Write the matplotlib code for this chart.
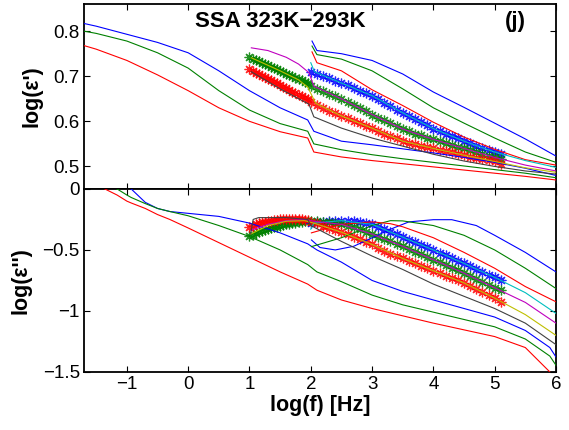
import numpy as np
import matplotlib
matplotlib.use('Agg')
import matplotlib.pyplot as plt

# matlab default colour order
C_B = (0, 0, 1)
C_G = (0, 0.5, 0)
C_R = (1, 0, 0)
C_C = (0, 0.75, 0.75)
C_M = (0.75, 0, 0.75)
C_Y = (0.75, 0.75, 0)
C_K = (0.25, 0.25, 0.25)

# ---------------- top panel: log(eps') ----------------
# low-frequency set, continued after the jump at log f = 2
tri_x = [-1.7, -1.5, -1.0, -0.5, 0.0, 0.5, 1.0, 1.5, 1.95, 2.05, 2.5, 3.0, 3.5, 4.0, 4.5, 5.0, 5.5, 6.0]
ep_blue = [0.817, 0.811, 0.793, 0.775, 0.752, 0.712, 0.668, 0.630, 0.603, 0.578, 0.556, 0.548, 0.539, 0.530, 0.520, 0.509, 0.496, 0.480]
ep_green = [0.800, 0.795, 0.778, 0.752, 0.718, 0.668, 0.625, 0.595, 0.578, 0.550, 0.537, 0.526, 0.517, 0.509, 0.501, 0.493, 0.485, 0.475]
ep_red = [0.768, 0.760, 0.735, 0.703, 0.668, 0.630, 0.600, 0.577, 0.563, 0.532, 0.521, 0.513, 0.506, 0.499, 0.492, 0.485, 0.478, 0.470]

# high-frequency set starting at log f = 2
hi_x = [2.02, 2.1, 2.5, 3.0, 3.5, 4.0, 4.5, 5.0, 5.5, 6.0]
ep_hi_blue = [0.778, 0.757, 0.750, 0.735, 0.705, 0.665, 0.631, 0.596, 0.561, 0.523]
ep_hi_green = [0.767, 0.748, 0.738, 0.712, 0.672, 0.630, 0.596, 0.563, 0.532, 0.509]
ep_hi_red = [0.754, 0.730, 0.712, 0.670, 0.635, 0.598, 0.565, 0.538, 0.515, 0.503]

ep_cyan_x = [2.0, 2.06, 2.5, 3.0, 3.5, 4.0, 4.5, 5.0, 5.5, 6.0]
ep_cyan = [0.730, 0.710, 0.685, 0.657, 0.619, 0.584, 0.556, 0.532, 0.513, 0.498]
ep_mag_x = [1.03, 1.3, 1.6, 1.8, 1.97, 2.05, 2.5, 3.0, 3.5, 4.0, 4.5, 5.0, 5.5, 6.0]
ep_mag = [0.763, 0.757, 0.742, 0.727, 0.708, 0.678, 0.650, 0.615, 0.583, 0.560, 0.540, 0.520, 0.503, 0.490]
ep_yel_x = [1.03, 1.5, 1.8, 1.95, 2.08, 2.5, 3.0, 3.5, 4.0, 4.5, 5.0, 5.5, 6.0]
ep_yel = [0.741, 0.712, 0.692, 0.676, 0.640, 0.612, 0.585, 0.556, 0.540, 0.525, 0.511, 0.497, 0.487]
ep_blk_x = [1.03, 1.5, 1.97, 2.05, 2.5, 3.0, 3.5, 4.0, 4.5, 5.0, 5.5, 6.0]
ep_blk = [0.710, 0.672, 0.638, 0.610, 0.585, 0.563, 0.545, 0.527, 0.512, 0.500, 0.490, 0.483]

# measured points (asterisks)
star_lo_x = [1.0, 1.05, 1.1, 1.15, 1.2, 1.25, 1.3, 1.35, 1.4, 1.45,
             1.5, 1.55, 1.6, 1.65, 1.7, 1.75, 1.8, 1.85, 1.9, 1.95]
star_hi_x = [2.0, 2.1, 2.2, 2.3, 2.4, 2.5, 2.6, 2.7, 2.8, 2.9, 3.0,
             3.1, 3.2, 3.3, 3.4, 3.5, 3.6, 3.7, 3.8, 3.9, 4.0,
             4.1, 4.2, 4.3, 4.4, 4.5, 4.6, 4.7, 4.8, 4.9, 5.0, 5.1]

ep_star_g_lo = [0.742, 0.739, 0.736, 0.733, 0.730, 0.727, 0.724, 0.721, 0.718, 0.715,
                0.712, 0.709, 0.706, 0.703, 0.700, 0.697, 0.694, 0.691, 0.688, 0.685]
ep_star_r_lo = [0.715, 0.712, 0.708, 0.705, 0.701, 0.698, 0.694, 0.691, 0.687, 0.684,
                0.680, 0.677, 0.673, 0.670, 0.666, 0.663, 0.659, 0.656, 0.652, 0.649]
ep_star_b_hi = [0.710, 0.705, 0.700, 0.695, 0.690, 0.685, 0.680, 0.674, 0.668, 0.663, 0.657,
                0.649, 0.641, 0.634, 0.626, 0.619, 0.612, 0.605, 0.598, 0.591, 0.584,
                0.578, 0.573, 0.567, 0.562, 0.556, 0.551, 0.546, 0.541, 0.537, 0.532, 0.527]
ep_star_g_hi = [0.678, 0.672, 0.667, 0.661, 0.656, 0.650, 0.643, 0.636, 0.629, 0.622, 0.615,
                0.608, 0.602, 0.596, 0.589, 0.583, 0.578, 0.573, 0.569, 0.564, 0.560,
                0.556, 0.552, 0.548, 0.544, 0.540, 0.536, 0.532, 0.528, 0.524, 0.520, 0.516]
ep_star_r_hi = [0.642, 0.636, 0.630, 0.624, 0.618, 0.612, 0.607, 0.601, 0.596, 0.590, 0.585,
                0.579, 0.573, 0.567, 0.562, 0.556, 0.553, 0.550, 0.546, 0.543, 0.540,
                0.537, 0.534, 0.531, 0.528, 0.525, 0.522, 0.519, 0.517, 0.514, 0.511, 0.506]

# ---------------- bottom panel: log(eps'') ----------------
lo2_x = [-1.7, -1.36, -1.16, -1.0, -0.93, -0.7, -0.5, -0.3, 0.0, 0.5, 1.0, 1.5, 1.95, 2.1,
         2.5, 3.0, 3.5, 4.0, 4.5, 5.0, 5.5, 5.9, 6.0]
el_blue = [0.30, 0.14, 0.06, 0.02, 0.0, -0.11, -0.16, -0.185, -0.20, -0.225, -0.28, -0.36, -0.45, -0.50,
           -0.60, -0.75, -0.84, -0.91, -0.98, -1.05, -1.16, -1.30, -1.377]
el_green = [0.12, 0.04, 0.0, -0.05, -0.07, -0.12, -0.16, -0.185, -0.22, -0.30, -0.39, -0.50, -0.62, -0.68,
            -0.76, -0.87, -0.95, -1.01, -1.07, -1.13, -1.23, -1.37, -1.445]
el_red = [0.08, 0.0, -0.05, -0.10, -0.115, -0.16, -0.21, -0.25, -0.32, -0.44, -0.56, -0.68, -0.78, -0.83,
          -0.91, -0.98, -1.04, -1.10, -1.155, -1.21, -1.30, -1.50, -1.56]

hi2_blue_x = [2.01, 2.15, 2.4, 2.7, 3.0, 3.3, 3.6, 4.0, 4.3, 4.7, 5.0, 5.5, 6.0]
el_hi_blue = [-0.418, -0.48, -0.50, -0.47, -0.40, -0.33, -0.27, -0.252, -0.252, -0.30, -0.38, -0.52, -0.68]
hi2_x = [2.01, 2.5, 3.0, 3.3, 3.5, 4.0, 4.5, 5.0, 5.5, 6.0]
el_hi_green = [-0.473, -0.40, -0.30, -0.26, -0.262, -0.30, -0.38, -0.50, -0.65, -0.816]
el_hi_red = [-0.36, -0.29, -0.27, -0.285, -0.31, -0.40, -0.52, -0.65, -0.80, -0.925]

el_cyan_x = [2.0, 2.05, 2.5, 3.0, 3.5, 4.0, 4.5, 5.0, 5.5, 6.0]
el_cyan = [-0.33, -0.28, -0.26, -0.29, -0.395, -0.50, -0.61, -0.725, -0.85, -1.02]
el_mag_x = [1.02, 1.3, 1.6, 1.9, 2.05, 2.5, 3.0, 3.5, 4.0, 4.5, 5.0, 5.5, 6.0]
el_mag = [-0.34, -0.29, -0.26, -0.25, -0.265, -0.29, -0.37, -0.47, -0.58, -0.69, -0.81, -0.93, -1.10]
el_yel_x = [1.02, 1.3, 1.6, 1.9, 2.05, 2.5, 3.0, 3.5, 4.0, 4.5, 5.0, 5.5, 6.0]
el_yel = [-0.37, -0.30, -0.265, -0.26, -0.28, -0.354, -0.455, -0.57, -0.67, -0.77, -0.895, -1.03, -1.20]
el_blk_x = [1.02, 1.06, 1.15, 1.6, 1.95, 2.0, 2.5, 3.0, 3.5, 4.0, 4.5, 5.0, 5.5, 6.0]
el_blk = [-0.37, -0.25, -0.235, -0.235, -0.25, -0.30, -0.43, -0.55, -0.66, -0.78, -0.88, -0.98, -1.10, -1.276]

el_star_g_lo = [-0.385, -0.375, -0.365, -0.355, -0.346, -0.338, -0.330, -0.322, -0.315, -0.308,
                -0.301, -0.295, -0.290, -0.285, -0.280, -0.276, -0.272, -0.268, -0.265, -0.262]
el_star_r_lo = [-0.310, -0.300, -0.290, -0.282, -0.275, -0.270, -0.265, -0.260, -0.256, -0.252,
                -0.250, -0.248, -0.246, -0.245, -0.245, -0.246, -0.248, -0.250, -0.253, -0.257]
el_star_b_hi = [-0.280, -0.275, -0.270, -0.265, -0.262, -0.260, -0.260, -0.262, -0.268, -0.278, -0.290,
                -0.310, -0.330, -0.350, -0.372, -0.395, -0.416, -0.437, -0.458, -0.479, -0.500,
                -0.522, -0.544, -0.566, -0.588, -0.610, -0.633, -0.656, -0.679, -0.702, -0.725, -0.750]
el_star_g_hi = [-0.265, -0.265, -0.268, -0.272, -0.280, -0.290, -0.300, -0.315, -0.330, -0.350, -0.370,
                -0.390, -0.410, -0.430, -0.450, -0.470, -0.492, -0.514, -0.536, -0.558, -0.580,
                -0.602, -0.624, -0.646, -0.668, -0.690, -0.714, -0.738, -0.762, -0.786, -0.810, -0.830]
el_star_r_hi = [-0.270, -0.280, -0.300, -0.320, -0.337, -0.354, -0.370, -0.390, -0.410, -0.432, -0.455,
                -0.480, -0.505, -0.530, -0.550, -0.570, -0.590, -0.610, -0.630, -0.650, -0.670,
                -0.690, -0.710, -0.730, -0.750, -0.770, -0.795, -0.820, -0.845, -0.870, -0.895, -0.925]

x_ticks = [-1, 0, 1, 2, 3, 4, 5, 6]
ep_ticks = [0.5, 0.6, 0.7, 0.8]
el_ticks = [-1.5, -1, -0.5, 0]

STAR = (8, 2, 0)
LW = 0.8


def style_axes(ax):
    ax.tick_params(direction='in', length=4, width=0.8, top=True, right=True,
                   labelsize=13.5, pad=3)
    for sp in ax.spines.values():
        sp.set_linewidth(1.3)
    ax.set_xlim(-1.7, 6)


def stars(ax, x, y, color):
    ax.plot(x, y, linestyle='none', marker=STAR, markersize=7, markeredgewidth=0.9,
            color=color, alpha=0.85, zorder=2)


def main():
    plt.rcParams['font.family'] = ['Liberation Sans', 'DejaVu Sans']
    fig = plt.figure(figsize=(5.69, 4.30), dpi=100)
    ax1 = fig.add_axes([0.1476, 0.5605, 0.8295, 0.430])
    ax2 = fig.add_axes([0.1476, 0.135, 0.8295, 0.4256])

    # top panel
    stars(ax1, star_lo_x, ep_star_g_lo, C_G)
    stars(ax1, star_lo_x, ep_star_r_lo, C_R)
    stars(ax1, star_hi_x, ep_star_b_hi, C_B)
    stars(ax1, star_hi_x, ep_star_g_hi, C_G)
    stars(ax1, star_hi_x, ep_star_r_hi, C_R)
    for xs, ys, col in [(tri_x, ep_blue, C_B), (tri_x, ep_green, C_G), (tri_x, ep_red, C_R),
                        (hi_x, ep_hi_blue, C_B), (hi_x, ep_hi_green, C_G), (hi_x, ep_hi_red, C_R),
                        (ep_cyan_x, ep_cyan, C_C), (ep_mag_x, ep_mag, C_M),
                        (ep_yel_x, ep_yel, C_Y), (ep_blk_x, ep_blk, C_K)]:
        ax1.plot(xs, ys, color=col, lw=LW, zorder=3)
    style_axes(ax1)
    ax1.set_ylim(0.45, 0.86)
    ax1.set_xticks(x_ticks)
    ax1.set_xticklabels([])
    ax1.set_yticks(ep_ticks)
    ax1.set_yticklabels(['0.5', '0.6', '0.7', '0.8'])
    ax1.set_ylabel("log(ε')", fontsize=15.5, fontweight='bold', labelpad=8)
    ax1.text(0.415, 0.905, 'SSA 323K\u2212293K', transform=ax1.transAxes, ha='center',
             va='center', fontsize=16, fontweight='bold')
    ax1.text(0.915, 0.905, '(j)', transform=ax1.transAxes, ha='center',
             va='center', fontsize=16, fontweight='bold')

    # bottom panel
    stars(ax2, star_lo_x, el_star_g_lo, C_G)
    stars(ax2, star_lo_x, el_star_r_lo, C_R)
    stars(ax2, star_hi_x, el_star_b_hi, C_B)
    stars(ax2, star_hi_x, el_star_g_hi, C_G)
    stars(ax2, star_hi_x, el_star_r_hi, C_R)
    for xs, ys, col in [(lo2_x, el_blue, C_B), (lo2_x, el_green, C_G), (lo2_x, el_red, C_R),
                        (hi2_blue_x, el_hi_blue, C_B), (hi2_x, el_hi_green, C_G), (hi2_x, el_hi_red, C_R),
                        (el_cyan_x, el_cyan, C_C), (el_mag_x, el_mag, C_M),
                        (el_yel_x, el_yel, C_Y), (el_blk_x, el_blk, C_K)]:
        ax2.plot(xs, ys, color=col, lw=LW, zorder=3)
    style_axes(ax2)
    ax2.set_ylim(-1.5, 0)
    ax2.set_xticks(x_ticks)
    ax2.set_yticks(el_ticks)
    ax2.set_yticklabels(['\u22121.5', '\u22121', '\u22120.5', '0'])
    ax2.set_xticklabels(['\u22121', '0', '1', '2', '3', '4', '5', '6'])
    ax2.set_ylabel("log(ε'')", fontsize=15.5, fontweight='bold', labelpad=8)
    ax2.set_xlabel('log(f) [Hz]', fontsize=15.5, fontweight='bold', labelpad=1)

    fig.savefig('out.png', dpi=100)


if __name__ == "__main__":
    main()
